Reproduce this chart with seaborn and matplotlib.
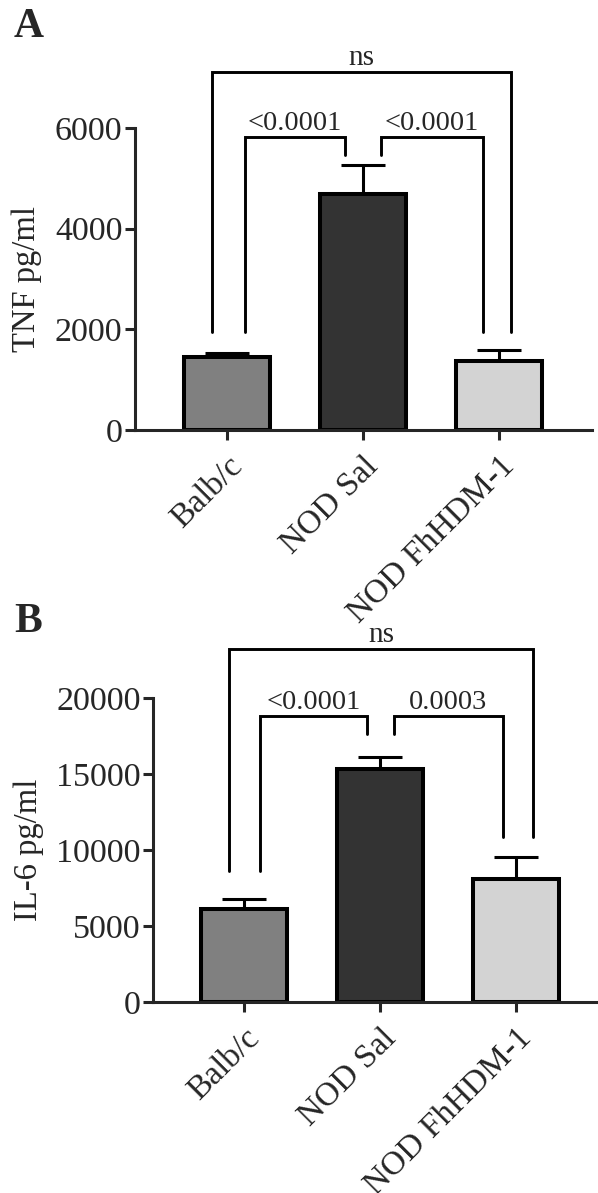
import matplotlib
matplotlib.use("Agg")
import matplotlib.pyplot as plt
import matplotlib.transforms as mtransforms
import seaborn as sns
import numpy as np
import pandas as pd

# ---------------- data ----------------
groups = ["Balb/c", "NOD Sal", "NOD FhHDM-1"]
bar_colors = ["#808080", "#333333", "#d3d3d3"]

tnf_mean = [1450, 4680, 1370]
tnf_sem = [70, 585, 220]

il6_mean = [6130, 15300, 8100]
il6_sem = [650, 820, 1440]

tnf_yticks = [0, 2000, 4000, 6000]
il6_yticks = [0, 5000, 10000, 15000, 20000]

# comparisons: (x_left, x_right, left_leg_bottom, right_leg_bottom, top, label)
tnf_brackets = [
    (-0.11, 2.09, 1950, 1950, 7110, "ns"),
    (0.13, 0.87, 1950, 5460, 5820, "<0.0001"),
    (1.13, 1.88, 5460, 1950, 5820, "<0.0001"),
]
il6_brackets = [
    (-0.11, 2.12, 8620, 10850, 23220, "ns"),
    (0.12, 0.90, 8620, 17630, 18820, "<0.0001"),
    (1.10, 1.90, 17630, 10850, 18820, "0.0003"),
]

# ---------------- style ----------------
sns.set_style("ticks")
plt.rcParams["font.family"] = ["Liberation Serif", "DejaVu Serif"]
plt.rcParams["axes.linewidth"] = 2.2

W, H = 598, 1193
fig = plt.figure(figsize=(W / 100, H / 100), dpi=100)

axA = fig.add_axes([135 / W, (H - 430) / H, 457 / W, 302 / H])
axB = fig.add_axes([153 / W, (H - 1002) / H, 445 / W, 304 / H])


def draw_panel(ax, means, sems, yticks, ylabel, brackets, xlim, label_x):
    df = pd.DataFrame({"group": groups, "value": means})
    sns.barplot(data=df, x="group", y="value", hue="group", palette=bar_colors,
                order=groups, hue_order=groups, width=0.63, saturation=1,
                edgecolor="black", linewidth=2.9, errorbar=None, legend=False,
                ax=ax, zorder=3)
    xs = np.arange(len(groups))
    ax.errorbar(xs, means, yerr=[np.zeros(len(sems)), sems], fmt="none",
                ecolor="black", elinewidth=2.2, capsize=16, capthick=2.2,
                zorder=2)
    ax.set_ylim(yticks[0], yticks[-1])
    ax.set_xlim(*xlim)
    ax.set_yticks(yticks)
    ax.set_yticklabels([str(t) for t in yticks], fontsize=24.5)
    ax.set_xticks(xs)
    ax.set_xticklabels(groups, fontsize=24, rotation=45, ha="right",
                       va="top", rotation_mode="anchor")
    shift = mtransforms.ScaledTranslation(-6 / 100, 0, fig.dpi_scale_trans)
    for lbl in ax.get_xticklabels():
        lbl.set_transform(lbl.get_transform() + shift)
    ax.tick_params(axis="both", length=7, width=2.2, direction="out")
    ax.tick_params(axis="y", pad=2)
    ax.tick_params(axis="x", pad=8)
    ax.set_xlabel("")
    ax.set_ylabel(ylabel, fontsize=23.5)
    ax.yaxis.label.set_va("center")
    ax.yaxis.set_label_coords(label_x, 0.5)
    sns.despine(ax=ax)
    for spine in ax.spines.values():
        spine.set_zorder(5)

    for x0, x1, b0, b1, top, txt in brackets:
        ax.plot([x0, x0, x1, x1], [b0, top, top, b1], color="black",
                lw=2.1, clip_on=False, solid_joinstyle="miter", zorder=4)
        ax.annotate(txt, xy=((x0 + x1) / 2, top), xytext=(0, 1),
                    textcoords="offset points", ha="center", va="bottom",
                    fontsize=21 if txt == "ns" else 20.5,
                    annotation_clip=False)


draw_panel(axA, tnf_mean, tnf_sem, tnf_yticks, "TNF pg/ml", tnf_brackets,
           (-0.676, 2.684), (27 - 135) / 457)
draw_panel(axB, il6_mean, il6_sem, il6_yticks, "IL-6 pg/ml", il6_brackets,
           (-0.669, 2.60), (29 - 153) / 445)

fig.text(14 / W, 1 - 8 / H, "A", fontsize=30, fontweight="bold",
         ha="left", va="top")
fig.text(14 / W, 1 - 603 / H, "B", fontsize=30, fontweight="bold",
         ha="left", va="top")

fig.savefig("out.png", dpi=100)
